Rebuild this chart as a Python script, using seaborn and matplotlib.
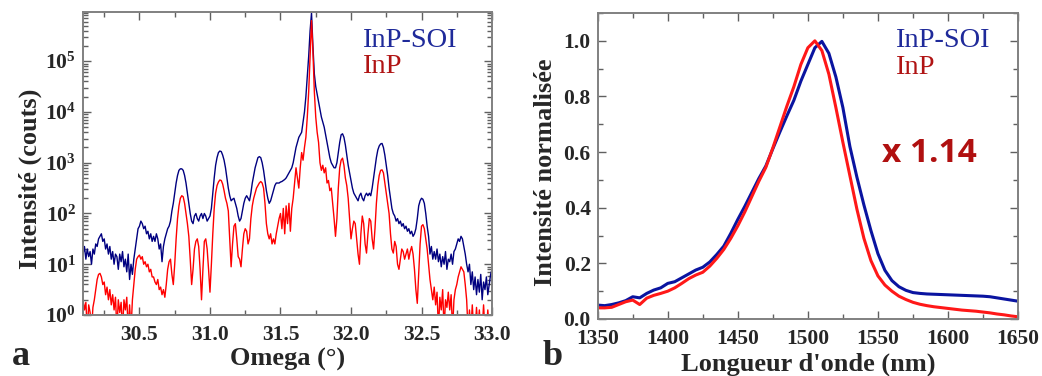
import numpy as np
import matplotlib
matplotlib.use('Agg')
import matplotlib.pyplot as plt
import matplotlib.ticker as mticker
import seaborn as sns

# ---- panel a : XRD omega scan (log10 of counts, read every 0.01 deg from 30.10 to 33.00)
omega = np.round(np.arange(3010, 3301) / 100, 2)

inp_soi_log = [
    1.2, 1.35, 1.1, 1.3, 1.15, 1.25, 1.0, 1.3, 1.2, 1.4,
    1.35, 1.5, 1.55, 1.6, 1.45, 1.5, 1.3, 1.4, 1.2, 1.35,
    1.1, 1.25, 1.0, 1.2, 1.15, 0.9, 1.2, 1.05, 1.25, 0.95,
    1.1, 0.85, 1.2, 0.7, 1.0, 0.8, 1.1, 1.3, 1.5, 1.7,
    1.75, 1.85, 1.8, 1.7, 1.75, 1.6, 1.65, 1.5, 1.6, 1.45,
    1.55, 1.45, 1.6, 1.5, 1.3, 1.4, 1.05, 1.35, 1.5, 1.6,
    1.7, 1.75, 1.85, 2.05, 2.2, 2.4, 2.6, 2.75, 2.85, 2.88,
    2.88, 2.85, 2.75, 2.6, 2.4, 2.2, 2.0, 1.85, 1.8, 1.95,
    2.0, 1.9, 1.85, 1.95, 2.0, 1.9, 2.0, 1.95, 1.85, 1.9,
    1.95, 2.1, 2.4, 2.7, 2.95, 3.1, 3.2, 3.23, 3.22, 3.15,
    3.05, 2.9, 2.7, 2.5, 2.35, 2.25, 2.28, 2.3, 2.2, 2.1,
    1.95, 1.85, 1.9, 2.05, 2.2, 2.3, 2.35, 2.3, 2.25, 2.4,
    2.6, 2.75, 2.9, 3.0, 3.1, 3.12, 3.1, 3.0, 2.85, 2.65,
    2.45, 2.3, 2.2, 2.25, 2.35, 2.45, 2.55, 2.6, 2.6, 2.6,
    2.62, 2.63, 2.65, 2.67, 2.7, 2.75, 2.8, 2.85, 2.9, 3.0,
    3.15, 3.3, 3.4, 3.5, 3.55, 3.6, 3.8, 4.0, 4.3, 4.7,
    5.1, 5.6, 5.95, 5.3, 4.75, 4.5, 4.35, 4.2, 4.05, 3.9,
    3.8, 3.7, 3.55, 3.4, 3.25, 3.1, 3.0, 2.95, 2.9, 2.9,
    3.0, 3.2, 3.4, 3.55, 3.57, 3.5, 3.35, 3.15, 2.95, 2.8,
    2.65, 2.5, 2.4, 2.35, 2.3, 2.25, 2.35, 2.4, 2.3, 2.25,
    2.35, 2.4, 2.35, 2.4, 2.35, 2.5, 2.7, 2.9, 3.1, 3.25,
    3.33, 3.37, 3.38, 3.3, 3.15, 2.95, 2.75, 2.5, 2.3, 2.1,
    2.0, 1.95, 1.85, 1.9, 1.8, 1.85, 1.75, 1.8, 1.7, 1.75,
    1.65, 1.7, 1.6, 1.65, 1.55, 1.6, 1.7, 1.9, 2.15, 2.25,
    2.3, 2.28, 2.2, 2.0, 1.75, 1.55, 1.2, 1.35, 1.1, 1.25,
    1.1, 1.3, 1.05, 1.2, 0.95, 1.15, 1.0, 1.25, 0.9, 1.1,
    1.05, 1.2, 1.0, 1.25, 1.3, 1.4, 1.5, 1.45, 1.55, 1.5,
    1.35, 1.2, 1.0, 0.85, 1.0, 0.6, 0.85, 0.5, 0.75, 0.4,
    0.7, 0.45, 0.8, 0.3, 0.65, 0.5, 0.75, 0.4, 0.6, 0.8,
    0.9,
]

inp_log = [
    0.3, 0.1, 0.25, -0.3, 0.2, 0.05, -0.3, 0.15, 0.3, 0.5,
    0.7, 0.8, 0.82, 0.75, 0.6, 0.65, 0.4, 0.55, 0.3, 0.5,
    0.2, 0.4, 0.1, 0.35, -0.3, 0.3, 0.05, 0.25, -0.3, 0.3,
    0.1, 0.35, -0.3, 0.2, -0.3, 0.3, 0.6, 0.9, 1.1, 1.15,
    1.18, 1.1, 1.15, 1.0, 1.05, 0.95, 1.0, 0.85, 0.9, 0.75,
    0.75, 0.65, 0.6, 0.7, 0.5, 0.55, 0.4, 0.5, 0.35, 0.6,
    0.9, 1.05, 1.1, 0.8, 0.6, 1.0, 1.5, 1.9, 2.15, 2.3,
    2.35, 2.33, 2.2, 2.0, 1.8, 1.55, 1.1, 0.6, 0.9, 1.3,
    1.45, 1.5, 1.35, 0.9, 0.3, 0.9, 1.45, 1.5, 1.3, 0.9,
    0.45, 1.0, 1.6, 2.1, 2.4, 2.55, 2.62, 2.66, 2.65, 2.58,
    2.45, 2.3, 2.2, 2.05, 1.5, 0.95, 1.4, 1.75, 1.8, 1.5,
    1.15, 1.1, 0.95, 1.3, 1.6, 1.7, 1.65, 1.4, 1.5, 1.9,
    2.15, 2.3, 2.4, 2.5, 2.55, 2.6, 2.63, 2.6, 2.5, 2.2,
    1.8, 1.6, 1.5, 1.6, 1.4, 1.5, 1.4, 1.6, 1.75, 1.9,
    2.0, 1.7, 2.1, 1.6, 2.15, 1.8, 2.2, 1.65, 2.1, 2.3,
    2.6, 2.9, 2.7, 2.5, 2.9, 3.2, 3.05, 3.3, 3.5, 3.9,
    4.4, 5.1, 5.8, 5.2, 4.4, 3.9, 3.6, 3.4, 3.0, 2.85,
    2.95, 2.8, 2.9, 2.6, 2.65, 2.45, 2.5, 2.2, 1.9, 1.55,
    1.9, 2.5, 2.9, 3.05, 3.09, 2.95, 2.7, 2.55, 2.3, 1.9,
    1.5, 1.7, 1.85, 1.8, 1.5, 1.2, 1.0, 1.6, 1.95, 1.8,
    1.4, 1.22, 1.6, 1.9, 1.85, 1.5, 1.3, 1.7, 2.2, 2.55,
    2.75, 2.85, 2.86, 2.8, 2.6, 2.4, 2.2, 2.0, 1.6, 1.3,
    1.22, 1.45, 1.35, 1.0, 0.9, 1.1, 1.3, 1.25, 1.1, 1.2,
    1.3, 1.1, 1.25, 1.35, 1.2, 0.9, 0.5, 0.23, 0.8, 1.4,
    1.75, 1.78, 1.7, 1.5, 1.3, 1.0, 0.7, 0.5, 0.3, 0.55,
    0.2, 0.45, -0.3, 0.35, 0.1, 0.5, -0.3, 0.3, 0.15, 0.45,
    0.1, 0.4, -0.3, 0.3, 0.5, 0.6, 0.75, 0.85, 0.95, 0.9,
    0.85, 0.6, 0.3, -0.3, 0.1, -0.3, 0.2, -0.3, -0.3, 0.15,
    -0.3, 0.1, -0.3, -0.3, 0.2, -0.3, -0.3, 0.1, -0.3, -0.3,
    -0.3,
]

# ---- panel b : normalised PL spectra, every 5 nm from 1350 to 1650
wavelength = np.arange(1350, 1651, 5)

pl_inp_soi = [
    0.050, 0.048, 0.052, 0.058, 0.066, 0.080, 0.076, 0.092, 0.104, 0.112,
    0.128, 0.134, 0.148, 0.162, 0.176, 0.186, 0.205, 0.232, 0.262, 0.308,
    0.358, 0.405, 0.455, 0.505, 0.550, 0.612, 0.672, 0.730, 0.786, 0.855,
    0.915, 0.975, 0.998, 0.955, 0.870, 0.760, 0.620, 0.510, 0.410, 0.318,
    0.235, 0.175, 0.138, 0.116, 0.103, 0.095, 0.092, 0.090, 0.089, 0.088,
    0.087, 0.086, 0.085, 0.084, 0.083, 0.082, 0.080, 0.076, 0.072, 0.068,
    0.064,
]

pl_inp = [
    0.040, 0.040, 0.042, 0.052, 0.062, 0.068, 0.052, 0.075, 0.085, 0.092,
    0.100, 0.112, 0.128, 0.145, 0.158, 0.168, 0.190, 0.218, 0.250, 0.290,
    0.335, 0.385, 0.440, 0.495, 0.545, 0.615, 0.690, 0.765, 0.835, 0.915,
    0.975, 1.000, 0.965, 0.880, 0.760, 0.635, 0.515, 0.395, 0.290, 0.210,
    0.155, 0.122, 0.100, 0.082, 0.070, 0.060, 0.053, 0.048, 0.044, 0.041,
    0.038, 0.035, 0.032, 0.030, 0.028, 0.025, 0.022, 0.018, 0.015, 0.011,
    0.008,
]

sns.set_theme(style='ticks')
plt.rcParams['font.family'] = ['Liberation Serif', 'DejaVu Serif']
plt.rcParams['mathtext.fontset'] = 'custom'
plt.rcParams['mathtext.rm'] = 'Liberation Serif:bold'
plt.rcParams['mathtext.bf'] = 'Liberation Serif:bold'
plt.rcParams['mathtext.it'] = 'Liberation Serif:bold'

fig = plt.figure(figsize=(10.42, 3.76), dpi=100)
ax1 = fig.add_axes([0.0797, 0.1622, 0.3925, 0.8058])
ax2 = fig.add_axes([0.5736, 0.1516, 0.4034, 0.8138])

xrd_blue = '#000080'
xrd_red = '#ff0000'

sns.lineplot(x=omega, y=10 ** np.array(inp_soi_log), ax=ax1, color=xrd_blue,
             lw=1.0, estimator=None)
sns.lineplot(x=omega, y=10 ** np.array(inp_log), ax=ax1, color=xrd_red,
             lw=1.0, estimator=None)
ax1.set_yscale('log')
ax1.set_xlim(30.1, 33.0)
ax1.set_ylim(1, 9.3e5)
ax1.xaxis.set_major_locator(mticker.MultipleLocator(0.5))
ax1.xaxis.set_minor_locator(mticker.MultipleLocator(0.25))
ax1.xaxis.set_major_formatter(mticker.FormatStrFormatter('%.1f'))
ax1.yaxis.set_major_locator(mticker.LogLocator(base=10, numticks=10))
ax1.yaxis.set_minor_locator(mticker.LogLocator(base=10, subs=np.arange(2, 10), numticks=10))
ax1.yaxis.set_minor_formatter(mticker.NullFormatter())
ax1.yaxis.set_major_formatter(
    mticker.FuncFormatter(lambda v, p: r'$\mathbf{10^{%d}}$' % round(np.log10(v))))
ax1.set_xlabel('Omega (°)', fontsize=19, fontweight='bold')
ax1.set_ylabel('Intensité (couts)', fontsize=19, fontweight='bold')
ax1.yaxis.set_label_coords(-0.10, 0.45)
ax1.xaxis.set_label_coords(0.5, -0.11)
ax1.text(0.682, 0.884, 'InP-SOI', transform=ax1.transAxes, fontsize=20.5,
         color='#1f2a9a', va='baseline')
ax1.text(0.682, 0.799, 'InP', transform=ax1.transAxes, fontsize=20.5,
         color='#b01414', va='baseline')

pl_blue = '#0a14a0'
pl_red = '#ff1818'
sns.lineplot(x=wavelength, y=pl_inp_soi, ax=ax2, color=pl_blue, lw=2.2, estimator=None)
sns.lineplot(x=wavelength, y=pl_inp, ax=ax2, color=pl_red, lw=2.2, estimator=None)
ax2.set_xlim(1350, 1650)
ax2.set_ylim(0, 1.1)
ax2.xaxis.set_major_locator(mticker.MultipleLocator(50))
ax2.xaxis.set_minor_locator(mticker.MultipleLocator(25))
ax2.yaxis.set_major_locator(mticker.FixedLocator([0, 0.2, 0.4, 0.6, 0.8, 1.0]))
ax2.yaxis.set_minor_locator(mticker.MultipleLocator(0.1))
ax2.yaxis.set_major_formatter(mticker.FormatStrFormatter('%.1f'))
ax2.set_xlabel("Longueur d'onde (nm)", fontsize=19, fontweight='bold')
ax2.set_ylabel('Intensité normalisée', fontsize=19, fontweight='bold')
ax2.yaxis.set_label_coords(-0.097, 0.48)
ax2.xaxis.set_label_coords(0.5, -0.11)
ax2.text(0.707, 0.889, 'InP-SOI', transform=ax2.transAxes, fontsize=20.5,
         color='#1f2a9a', va='baseline')
ax2.text(0.707, 0.800, 'InP', transform=ax2.transAxes, fontsize=20.5,
         color='#b01414', va='baseline')
ax2.text(0.676, 0.513, 'x 1.14', transform=ax2.transAxes, fontsize=24,
         color='#b01010', va='baseline', family=['Open Sans', 'DejaVu Sans'],
         fontweight='bold')

for ax in (ax1, ax2):
    for s in ax.spines.values():
        s.set_color('#808080')
        s.set_linewidth(1.4)
    ax.tick_params(which='both', direction='in', top=True, right=True,
                   color='#606060', width=1.0)
    ax.tick_params(which='major', length=6, labelsize=15.5)
    ax.tick_params(which='minor', length=3.5)
    ax.tick_params(axis='x', which='major', pad=7)
    ax.tick_params(axis='y', which='major', pad=5)
    for lab in ax.get_xticklabels() + ax.get_yticklabels():
        lab.set_fontweight('bold')

fig.text(0.011, 0.008, 'a', fontsize=26, fontweight='bold', va='bottom')
fig.text(0.521, 0.008, 'b', fontsize=26, fontweight='bold', va='bottom')

fig.savefig('out.png', dpi=100)
